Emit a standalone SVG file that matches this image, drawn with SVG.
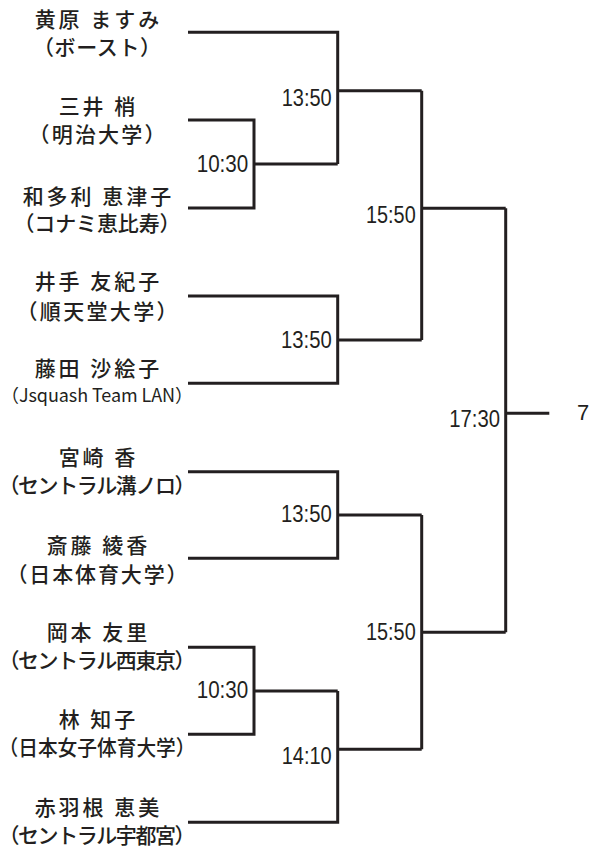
<svg xmlns="http://www.w3.org/2000/svg" width="595" height="848" viewBox="0 0 595 848">
<style>
.n{font-family:"Noto Sans CJK JP","Noto Sans",sans-serif;font-size:21px;font-weight:500;fill:#231f20;text-anchor:middle;letter-spacing:3px}
.p{font-family:"Noto Sans CJK JP","Noto Sans",sans-serif;font-size:21px;font-weight:500;fill:#231f20;text-anchor:middle}
.t{font-family:"Liberation Sans",Arial,sans-serif;font-size:23.5px;fill:#231f20}
.c{fill:none;stroke:#231f20;stroke-width:3;stroke-linejoin:miter;stroke-linecap:butt}
</style>
<rect width="595" height="848" fill="#fff"/>
<g id="connectors" class="c">
<path d="M188,120 H254 V208 H188 M254,164 H337.7"/>
<path d="M188,32.3 H337.7 V164 M337.7,90.7 H421.7"/>
<path d="M188,296 H337.7 V383.3 H188 M337.7,340 H421.7"/>
<path d="M421.7,90.7 V340 M421.7,208.3 H505.7"/>
<path d="M188,471.7 H337.7 V558.3 H188 M337.7,515 H421.7"/>
<path d="M188,647.3 H254 V734.3 H188 M254,691 H337.7"/>
<path d="M337.7,691 V822.3 H188 M337.7,749.3 H421.7"/>
<path d="M421.7,515 V749.3 M421.7,632.3 H505.7"/>
<path d="M505.7,208.3 V632.3 M505.7,413.3 H549.3"/>
</g>
<g id="p1"><text class="n" x="98.5" y="27">黄原 ますみ</text><text class="p" x="97" y="55" textLength="128">（ボースト）</text></g>
<g id="p2"><text class="n" x="98.5" y="114">三井 梢</text><text class="p" x="97" y="142" textLength="137">（明治大学）</text></g>
<g id="p3"><text class="n" x="98.5" y="203.5">和多利 恵津子</text><text class="p" x="97" y="231" textLength="167">（コナミ恵比寿）</text></g>
<g id="p4"><text class="n" x="98.5" y="288.5">井手 友紀子</text><text class="p" x="97" y="318.5" textLength="161">（順天堂大学）</text></g>
<g id="p5"><text class="n" x="98.5" y="376">藤田 沙絵子</text><text class="p" x="97" y="402" style="font-size:18px;font-weight:400" textLength="192">（Jsquash Team LAN）</text></g>
<g id="p6"><text class="n" x="98.5" y="465">宮崎 香</text><text class="p" x="97" y="493" textLength="197">（セントラル溝ノロ）</text></g>
<g id="p7"><text class="n" x="98.5" y="552.5">斎藤 綾香</text><text class="p" x="97" y="582" textLength="181">（日本体育大学）</text></g>
<g id="p8"><text class="n" x="98.5" y="640">岡本 友里</text><text class="p" x="97" y="668" textLength="197">（セントラル西東京）</text></g>
<g id="p9"><text class="n" x="98.5" y="726.5">林 知子</text><text class="p" x="97" y="755" textLength="197" lengthAdjust="spacingAndGlyphs">（日本女子体育大学）</text></g>
<g id="p10"><text class="n" x="98.5" y="815">赤羽根 恵美</text><text class="p" x="97" y="843" textLength="197">（セントラル宇都宮）</text></g>
<g id="m1"><text class="t" x="196.7" y="171.7" textLength="51.6" lengthAdjust="spacingAndGlyphs">10:30</text></g>
<g id="m2"><text class="t" x="281.7" y="106" textLength="50" lengthAdjust="spacingAndGlyphs">13:50</text></g>
<g id="m3"><text class="t" x="281" y="347.7" textLength="50.7" lengthAdjust="spacingAndGlyphs">13:50</text></g>
<g id="m4"><text class="t" x="366" y="222.5" textLength="49.7" lengthAdjust="spacingAndGlyphs">15:50</text></g>
<g id="m5"><text class="t" x="281" y="522.3" textLength="50.7" lengthAdjust="spacingAndGlyphs">13:50</text></g>
<g id="m6"><text class="t" x="196.7" y="698.3" textLength="51.6" lengthAdjust="spacingAndGlyphs">10:30</text></g>
<g id="m7"><text class="t" x="281.7" y="764.3" textLength="50" lengthAdjust="spacingAndGlyphs">14:10</text></g>
<g id="m8"><text class="t" x="366" y="640" textLength="49.7" lengthAdjust="spacingAndGlyphs">15:50</text></g>
<g id="m9"><text class="t" x="449.3" y="427.3" textLength="50.7" lengthAdjust="spacingAndGlyphs">17:30</text></g>
<g id="final"><text class="t" x="577" y="420" style="font-size:22px">7</text></g>
</svg>
